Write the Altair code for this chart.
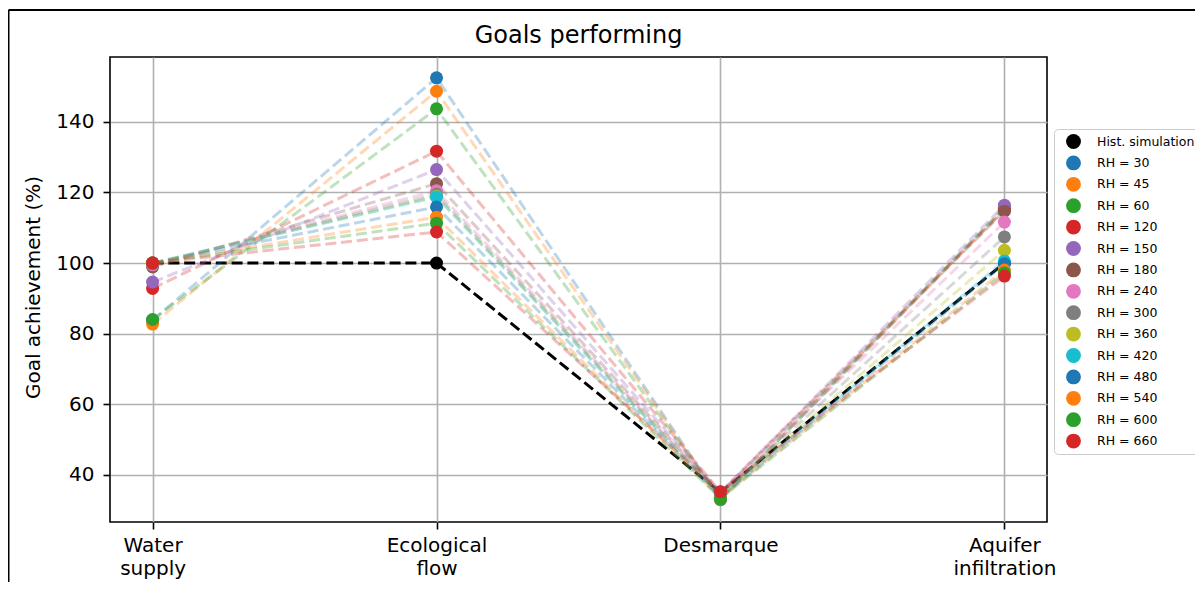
import altair as alt
import pandas as pd

series = ["Hist. simulation", "RH = 30", "RH = 45", "RH = 60", "RH = 120", "RH = 150",
          "RH = 180", "RH = 240", "RH = 300", "RH = 360", "RH = 420", "RH = 480",
          "RH = 540", "RH = 600", "RH = 660"]
colors = ["#000000", "#1f77b4", "#ff7f0e", "#2ca02c", "#d62728", "#9467bd", "#8c564b",
          "#e377c2", "#7f7f7f", "#bcbd22", "#17becf", "#1f77b4", "#ff7f0e", "#2ca02c", "#d62728"]

goals = [["Water", "supply"], ["Ecological", "flow"], ["Desmarque"], ["Aquifer", "infiltration"]]

water_supply = [100, 83.8, 82.7, 84.0, 92.8, 94.6, 98.9, 99.5, 99.8, 100, 100, 100, 100, 100, 100]
ecological_flow = [100, 152.5, 148.7, 143.7, 131.7, 126.5, 122.5, 120.5, 119.5, 118.9, 118.7,
                   115.9, 113.0, 111.3, 108.8]
desmarque = [35.0, 32.9, 33.0, 33.1, 35.1, 34.9, 34.7, 34.5, 34.3, 34.1, 33.9, 33.7, 33.5, 33.3, 35.2]
aquifer_infiltration = [100, 115.5, 115.2, 115.8, 115.0, 116.4, 114.7, 111.6, 107.4, 103.6,
                        100.6, 99.8, 98.0, 97.2, 96.3]

goal_values = [water_supply, ecological_flow, desmarque, aquifer_infiltration]

rows = []
for si, s in enumerate(series):
    for gi, vals in enumerate(goal_values):
        rows.append({"series": s, "goal": gi, "value": vals[si], "order": si})
df = pd.DataFrame(rows)

FONT = "DejaVu Sans"

label_expr = "[" + ",".join("[" + ",".join("'" + w + "'" for w in g) + "]" for g in goals) + "][datum.value]"

x_enc = alt.X("goal:Q", scale=alt.Scale(domain=[-0.15, 3.15], nice=False, zero=False),
              axis=alt.Axis(values=[0, 1, 2, 3], labelExpr=label_expr, title=None,
                            labelLineHeight=23, labelPadding=6, labelFontSize=20,
                            labelAlign="center"))
y_enc = alt.Y("value:Q", scale=alt.Scale(domain=[26.6, 158.4], nice=False, zero=False),
              axis=alt.Axis(values=[40, 60, 80, 100, 120, 140], title="Goal achievement (%)",
                            titleFontSize=20, titleFont=FONT, titleFontWeight="normal",
                            titleColor="black", titleAngle=-90, titleX=-77, titleY=230,
                            titleAlign="center", titleBaseline="middle",
                            labelPadding=9, labelFontSize=20))

base = alt.Chart(df)

lines = base.mark_line(strokeDash=[11, 4.8], strokeWidth=3).encode(
    x=x_enc, y=y_enc,
    detail="order:O",
    stroke=alt.Stroke("order:O", scale=alt.Scale(domain=list(range(len(series))), range=colors),
                      legend=None),
    opacity=alt.condition(alt.datum.order == 0, alt.value(1.0), alt.value(0.3)),
)

points = base.mark_circle(size=169, opacity=1).encode(
    x=x_enc, y=y_enc,
    color=alt.Color("series:N", scale=alt.Scale(domain=series, range=colors),
                    legend=alt.Legend(title=None, orient="none", legendX=944, legendY=72,
                                      symbolType="circle", symbolSize=220, symbolStrokeWidth=0,
                                      symbolOpacity=1,
                                      labelFontSize=12.5, labelFont=FONT, labelColor="black",
                                      rowPadding=6.4, padding=5, symbolOffset=7, labelOffset=16,
                                      strokeColor="#cccccc", fillColor="white", cornerRadius=4,
                                      labelLimit=300)),
    order=alt.Order("order:Q"),
)

frame_df = pd.DataFrame({"a": [0]})
frame_top = alt.Chart(frame_df).mark_rule(color="black", strokeWidth=2).encode(
    x=alt.value(-101.5), x2=alt.value(1090), y=alt.value(-47))
frame_left = alt.Chart(frame_df).mark_rule(color="black", strokeWidth=2).encode(
    x=alt.value(-101.5), y=alt.value(-47), y2=alt.value(600))

chart = alt.layer(lines, points, frame_top, frame_left).properties(
    width=937, height=465,
    title=alt.TitleParams("Goals performing", fontSize=24, font=FONT, fontWeight="normal",
                          color="black", anchor="middle",
                          baseline="alphabetic", offset=-58.2),
    autosize=alt.AutoSizeParams(type="none"),
    padding={"left": 102, "top": 49, "right": 148, "bottom": 60},
    background="white",
).configure_view(stroke="black", strokeWidth=1.6).configure_axis(
    labelFont=FONT, labelColor="black", tickColor="black", tickSize=7, tickWidth=1.6,
    domain=False, gridColor="#b0b0b0", gridWidth=1.6, gridOpacity=1,
)

chart.save("out.html", embed_options={"renderer": "svg", "actions": False})
